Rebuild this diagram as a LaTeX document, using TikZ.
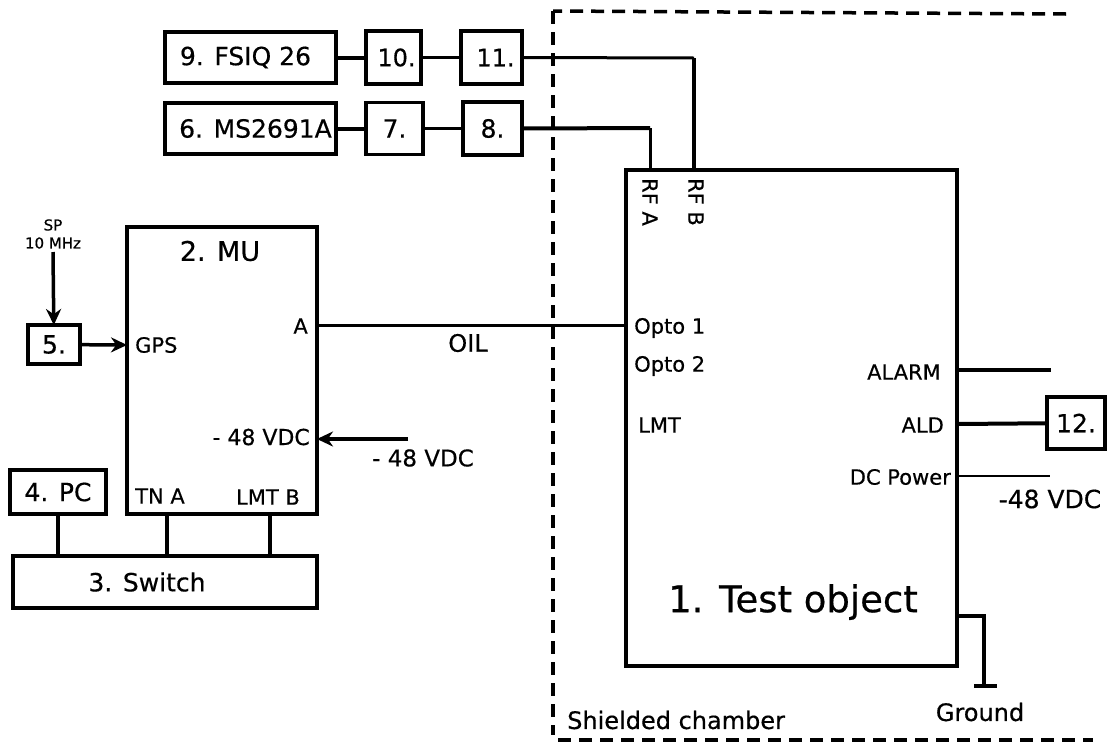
\documentclass[tikz,border=0pt]{standalone}
\usepackage{fontspec}
\setmainfont[FakeBold=0.5]{DejaVu Sans}
\usetikzlibrary{arrows.meta,positioning}
\newcommand{\fs}[1]{\fontsize{#1}{#1}\selectfont}

\begin{document}
\begin{tikzpicture}[x=1pt,y=-1pt,
box/.style={draw,line width=3.5pt,outer sep=0pt,inner sep=0pt,align=center,font=\fs{25}},
txt/.style={inner sep=0pt,font=\fs{21}},
wire/.style={line width=4pt},
mid wire/.style={line width=3pt},
thin wire/.style={line width=2.5pt},
arr/.style={-{Stealth[length=16pt,width=15pt]},line width=3.5pt},
shield/.style={line width=4.5pt,dash pattern=on 13pt off 8pt},
node distance=20pt and 30pt]
\useasboundingbox (0,0) rectangle (1107,742);
% upper chains
\node[box,minimum width=171pt,minimum height=51pt] (fsiq) at (250.5,57.5) {\hspace*{-10pt}9. FSIQ 26};
\node[box,right=30pt of fsiq,minimum width=55pt,minimum height=53pt,font=\fs{24}] (ten) {\hspace*{6pt}10.};
\node[box,right=40pt of ten,minimum width=61pt,minimum height=53pt,font=\fs{24}] (eleven) {\hspace*{8pt}11.};
\node[box,below=20pt of fsiq,minimum width=171pt,minimum height=51pt] (ms) {\hspace*{10pt}6. MS2691A};
\node[box,right=30pt of ms,minimum width=57pt,minimum height=52pt] (seven) {7.};
\node[box,right=40pt of seven,minimum width=59pt,minimum height=53pt] (eight) {8.};
% MU side
\node[draw,line width=3.5pt,outer sep=0pt,minimum width=190pt,minimum height=287pt] (mu) at (222,370.5) {};
\node[txt,font=\fs{27}] (mut) at (220,251) {2. MU};
\node[box,minimum width=52pt,minimum height=39pt] (five) at (54,344.5) {5.};
\node[box,minimum width=96pt,minimum height=44pt] (pc) at (58,492) {4. PC};
\node[box,minimum width=304pt,minimum height=52pt] (sw) at (165,582) {\hspace*{-36pt}3. Switch};
\node[txt,align=center,font=\fs{15}] (sp) at (53,234) {SP\\[3pt]10 MHz};
\node[txt,anchor=west] (gps) at (135,345) {GPS};
\node[txt,anchor=east] (a) at (308,326) {A};
\node[txt,anchor=east,font=\fs{22}] (vin) at (310,437) {- 48 VDC};
\node[txt,anchor=west] (tna) at (135,496) {TN A};
\node[txt,anchor=east] (lmtb) at (300,497) {LMT B};
\node[txt,font=\fs{23}] (vext) at (423,458) {- 48 VDC};
\node[txt,font=\fs{24}] (oil) at (468,343) {OIL};
% test object
\node[draw,line width=3.5pt,outer sep=0pt,minimum width=331pt,minimum height=496pt] (obj) at (791.5,418) {};
\node[txt,font=\fs{37}] (objt) at (793,602) {1. Test object};
\node[txt,rotate=-90] (rfa) at (650,202) {RF A};
\node[txt,rotate=-90] (rfb) at (696,202) {RF B};
\node[txt,anchor=west] (opa) at (634,328) {Opto 1};
\node[txt,anchor=west] (opb) at (634,366) {Opto 2};
\node[txt,anchor=west] (lmt) at (638,425) {LMT};
\node[txt,anchor=east] (alarm) at (941,372) {ALARM};
\node[txt,anchor=east] (ald) at (944,425) {ALD};
\node[txt,anchor=east] (dc) at (951,477) {DC Power};
\node[box,minimum width=58pt,minimum height=52pt] (twelve) at (1076,423) {12.};
\node[txt,font=\fs{25}] (vout) at (1050,499) {-48 VDC};
\node[txt,font=\fs{24}] (gnd) at (980,712) {Ground};
\node[txt,anchor=west,font=\fs{24}] (shd) at (567,720) {Shielded chamber};
% free ends
\coordinate (ta) at (650,170);\coordinate (tb) at (694,170);
\coordinate (spin) at (53,252);\coordinate (vsrc) at (408,439);\coordinate (vmu) at (317,439);
\coordinate (muin) at (127,345);\coordinate (mua) at (317,325);\coordinate (obin) at (626,325);
\coordinate (alo) at (957,370);\coordinate (ale) at (1051,370);\coordinate (aldo) at (957,424);
\coordinate (dco) at (957,476);\coordinate (dce) at (1050,476);
\coordinate (go) at (957,616);\coordinate (gc) at (984,616);\coordinate (ge) at (984,686);
\coordinate (gl) at (974,686);\coordinate (gr) at (997,686);
\coordinate (pcb) at (58,556);\coordinate (tnt) at (167,514);\coordinate (tnb) at (167,556);
\coordinate (lmtt) at (270,514);\coordinate (lmtd) at (270,556);
\coordinate (sa) at (1066,14);\coordinate (sb) at (553,11);\coordinate (sc) at (553,735);
\coordinate (sd) at (558,740);\coordinate (se) at (1093,740);
\coordinate (tc) at (694,58);\coordinate (ac) at (650,128);
% connectors
\draw[wire] (fsiq)--(ten);\draw[thin wire] (ten)--(eleven);
\draw[wire] (ms)--(seven);\draw[thin wire] (seven)--(eight);
\draw[mid wire] (eleven.east)--(tc);\draw[line width=4.5pt] (tc)--(tb);
\draw[wire] (eight.east)--(ac);\draw[mid wire] (ac)--(ta);
\draw[arr] (spin)--(five);\draw[arr] (five)--(muin);
\draw[mid wire] (mua)--(obin);
\draw[arr] (vsrc)--(vmu);
\draw[wire] (pc.south)--(pcb);\draw[wire] (tnt)--(tnb);\draw[wire] (lmtt)--(lmtd);
\draw[wire] (alo)--(ale);\draw[wire] (aldo)--(twelve);\draw[thin wire] (dco)--(dce);
\draw[wire] (go)--(gc)--(ge);\draw[wire] (gl)--(gr);
\draw[shield,line width=3.5pt] (sa)--(sb);\draw[shield] (sb)--(sc);\draw[shield] (sd)--(se);
\end{tikzpicture}
\end{document}
